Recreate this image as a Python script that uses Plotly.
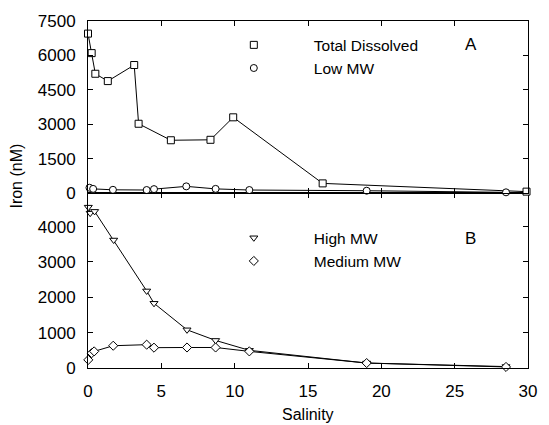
import plotly.graph_objects as go

# ---- data ----
td_sal = [0.0, 0.25, 0.5, 1.35, 3.15, 3.45, 5.65, 8.35, 9.9, 16.0, 29.9]
td_fe = [6950, 6100, 5200, 4880, 5580, 3020, 2300, 2320, 3300, 420, 60]

low_sal = [0.1, 0.35, 1.7, 4.0, 4.5, 6.7, 8.7, 11.0, 19.0, 28.5]
low_fe = [230, 180, 140, 130, 170, 290, 180, 130, 100, 30]

high_sal = [0.02, 0.15, 0.45, 1.75, 4.0, 4.5, 6.75, 8.7, 11.0, 19.0, 28.5]
high_fe = [4550, 4380, 4430, 3620, 2180, 1830, 1080, 780, 500, 140, 40]

med_sal = [0.02, 0.25, 0.42, 1.72, 4.0, 4.5, 6.75, 8.7, 11.0, 19.0, 28.5]
med_fe = [230, 420, 470, 630, 660, 575, 580, 580, 470, 140, 30]

xticks = [0, 5, 10, 15, 20, 25, 30]
yticks_a = [0, 1500, 3000, 4500, 6000, 7500]
yticks_b = [0, 1000, 2000, 3000, 4000]

FONT = "Liberation Sans, Arial, sans-serif"

fig = go.Figure()

def add_series(x, y, symbol, xa, ya, name, legend):
    fig.add_trace(go.Scatter(
        x=x, y=y, mode="lines+markers", xaxis=xa, yaxis=ya,
        line=dict(color="black", width=1),
        marker=dict(symbol=symbol, size=7, color="white",
                    line=dict(color="black", width=1)),
        cliponaxis=False, showlegend=False))
    fig.add_trace(go.Scatter(
        x=[None], y=[None], mode="markers", name=name, legend=legend,
        xaxis=xa, yaxis=ya,
        marker=dict(symbol=symbol, size=7, color="white",
                    line=dict(color="black", width=1))))

add_series(td_sal, td_fe, "square", "x2", "y2", "Total Dissolved", "legend")
add_series(low_sal, low_fe, "circle", "x2", "y2", "Low MW", "legend")
add_series(high_sal, high_fe, "triangle-down", "x", "y", "High MW", "legend2")
add_series(med_sal, med_fe, "diamond", "x", "y", "Medium MW", "legend2")

ax_common = dict(showgrid=False, zeroline=False, showline=True, linecolor="black",
                 linewidth=1, mirror="ticks", ticks="inside", ticklen=5,
                 tickcolor="black", tickwidth=1)

split = (368 - 192) / 349.0

fig.update_layout(
    width=549, height=425,
    margin=dict(l=88, r=12, t=19, b=57),
    paper_bgcolor="white", plot_bgcolor="white",
    font=dict(family=FONT, color="black", size=15),
    xaxis=dict(range=[0, 30], tickvals=xticks, anchor="y",
               tickfont=dict(size=17), ticklabelstandoff=8, **ax_common),
    xaxis2=dict(range=[0, 30], tickvals=xticks, anchor="y2", matches="x",
                showticklabels=False, **ax_common),
    yaxis=dict(range=[0, 4950], tickvals=yticks_b, domain=[0, split],
               tickfont=dict(size=17), ticklabelstandoff=8, **ax_common),
    yaxis2=dict(range=[0, 7500], tickvals=yticks_a, domain=[split, 1],
                tickfont=dict(size=17), ticklabelstandoff=8, **ax_common),
    legend=dict(x=0.2405, y=0.979, xanchor="left", yanchor="top",
                bgcolor="rgba(0,0,0,0)", font=dict(size=15.5),
                itemwidth=110, tracegroupgap=0),
    legend2=dict(x=0.2405, y=0.423, xanchor="left", yanchor="top",
                 bgcolor="rgba(0,0,0,0)", font=dict(size=15.5),
                 itemwidth=110, tracegroupgap=0),
    annotations=[
        dict(text="A", xref="paper", yref="paper", x=0.87, y=0.933,
             xanchor="center", yanchor="middle",
             showarrow=False, font=dict(size=17)),
        dict(text="B", xref="paper", yref="paper", x=0.87, y=0.374,
             xanchor="center", yanchor="middle",
             showarrow=False, font=dict(size=17)),
        dict(text="Iron (nM)", xref="paper", yref="paper", x=-0.1626, y=0.553,
             xanchor="center", yanchor="middle", textangle=-90,
             showarrow=False, font=dict(size=16)),
        dict(text="Salinity", xref="paper", yref="paper", x=0.5, y=-0.135,
             xanchor="center", yanchor="middle",
             showarrow=False, font=dict(size=16)),
    ],
)

fig.write_html("out.html")
